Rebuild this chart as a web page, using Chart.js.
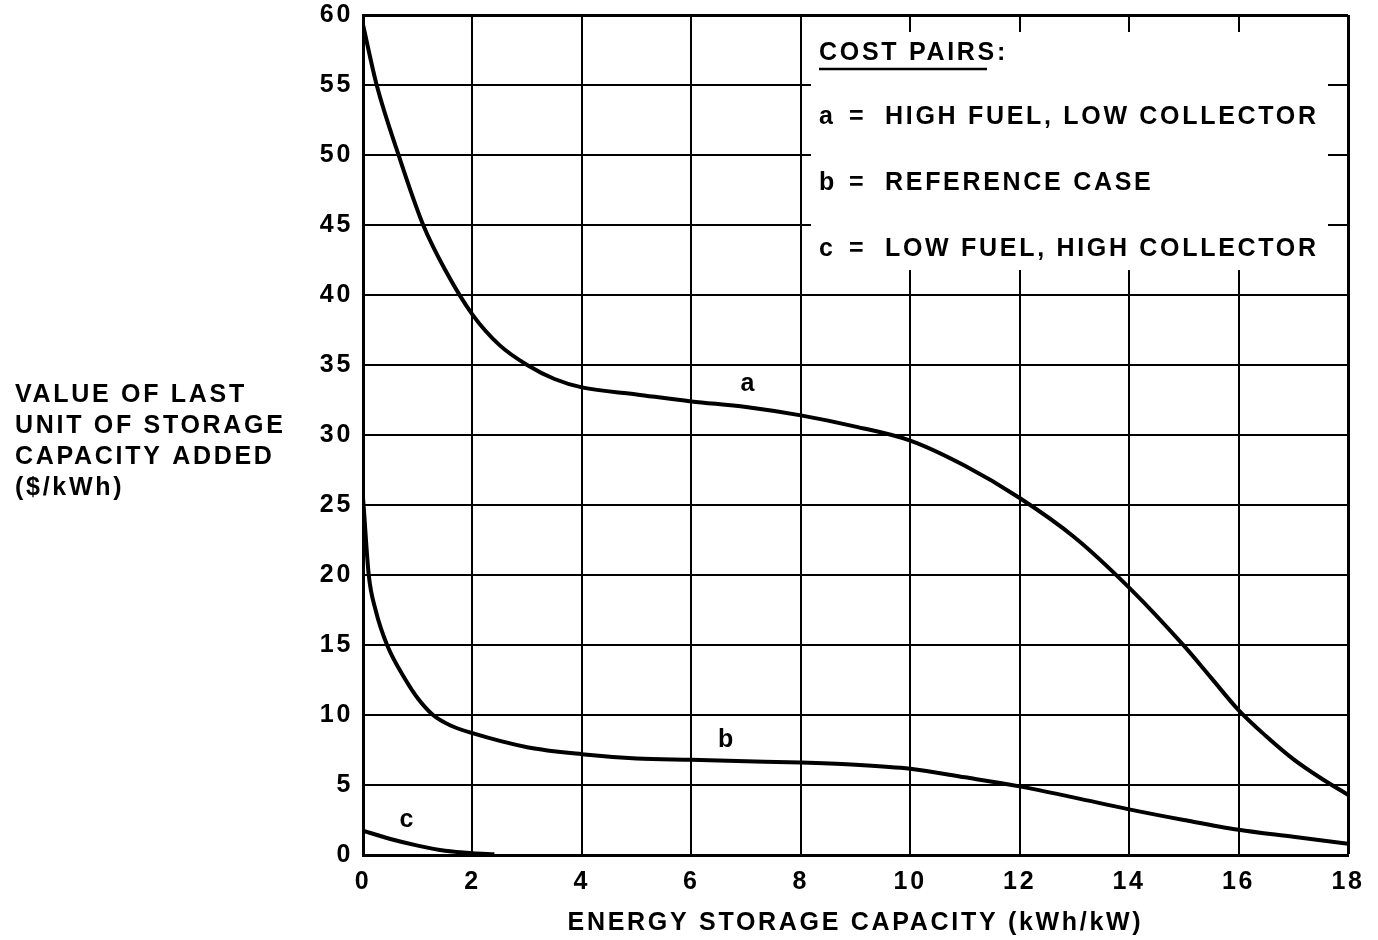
<!DOCTYPE html>
<html>
<head>
<meta charset="utf-8">
<script src="https://cdn.jsdelivr.net/npm/chart.js@4.4.1/dist/chart.umd.min.js"></script>
<style>
  body { margin: 0; background: #fff; }
  canvas { display: block; }
</style>
</head>
<body>
<canvas id="chart" width="1378" height="940"></canvas>
<script>
// Value of last unit of storage capacity added vs energy storage capacity

const xTicks = [0, 2, 4, 6, 8, 10, 12, 14, 16, 18];
const yTicks = [0, 5, 10, 15, 20, 25, 30, 35, 40, 45, 50, 55, 60];

// curve a = high fuel, low collector
const xA = [0, 0.25, 0.65, 1.1, 1.5, 2, 2.5, 3, 3.5, 4, 5, 6, 7, 8, 9, 10, 11, 12, 13, 14, 15, 15.5, 16, 16.5, 17, 17.5, 18];
const yA = [59.3, 55, 50, 45, 41.8, 38.6, 36.4, 35, 34, 33.4, 32.9, 32.4, 32, 31.4, 30.6, 29.6, 27.8, 25.5, 22.7, 19.1, 14.95, 12.65, 10.35, 8.5, 6.85, 5.5, 4.3];

// curve b = reference case
const xB = [0, 0.01, 0.105, 0.23, 0.44, 0.78, 1, 1.28, 1.6, 2, 3, 4, 5, 6, 7, 8, 9, 10, 11, 12, 13, 14, 15, 16, 17, 18];
const yB = [25.5, 25, 20, 17.5, 15, 12.5, 11.2, 10, 9.25, 8.7, 7.7, 7.2, 6.9, 6.8, 6.7, 6.6, 6.45, 6.16, 5.55, 4.9, 4.1, 3.26, 2.5, 1.8, 1.3, 0.8];

// curve c = low fuel, high collector
const xC = [0, 0.5, 1, 1.5, 2, 2.4];
const yC = [1.74, 1.14, 0.67, 0.3, 0.12, 0.05];

const curveNames = ['a', 'b', 'c'];
const curveLabelX = [7.05, 6.65, 0.82];
const curveLabelY = [33.6, 8.2, 2.5];

const legendTitle = 'COST PAIRS:';
const legendLines = [
    ['a', 'HIGH FUEL, LOW COLLECTOR'],
    ['b', 'REFERENCE CASE'],
    ['c', 'LOW FUEL, HIGH COLLECTOR']
];
const boxX = [8, 18];
const boxY = [40, 60];

const yTitle = ['VALUE OF LAST', 'UNIT OF STORAGE', 'CAPACITY ADDED', '($/kWh)'];
const xTitle = 'ENERGY STORAGE CAPACITY (kWh/kW)';

const FONT = "'Liberation Sans', Arial, Helvetica, sans-serif";

function toPoints(xs, ys) {
    return xs.map((v, i) => ({ x: v, y: ys[i] }));
}

function curve(xs, ys) {
    return {
        data: toPoints(xs, ys),
        borderColor: '#000',
        borderWidth: 4,
        pointRadius: 0,
        fill: false,
        cubicInterpolationMode: 'monotone'
    };
}

const overlay = {
    id: 'overlay',
    beforeDraw(chart) {
        chart.ctx.letterSpacing = '2.7px';
    },
    beforeDatasetsDraw(chart) {
        const ctx = chart.ctx;
        const x = chart.scales.x, y = chart.scales.y;
        const l = Math.round(x.getPixelForValue(boxX[0]));
        const r = Math.round(x.getPixelForValue(boxX[1]));
        const t = Math.round(y.getPixelForValue(boxY[1]));
        const b = Math.round(y.getPixelForValue(boxY[0]));
        ctx.save();
        ctx.fillStyle = '#fff';
        ctx.fillRect(l + 1, t + 2, r - l - 3, b - t - 3);

        // little stubs where the grid meets the box
        ctx.strokeStyle = '#000';
        ctx.lineWidth = 2;
        ctx.beginPath();
        xTicks.filter(v => v > boxX[0] && v < boxX[1]).forEach(v => {
            const px = Math.round(x.getPixelForValue(v));
            ctx.moveTo(px, t); ctx.lineTo(px, t + 17);
            ctx.moveTo(px, b); ctx.lineTo(px, b - 25);
        });
        yTicks.filter(v => v > boxY[0] && v < boxY[1]).forEach(v => {
            const py = Math.round(y.getPixelForValue(v));
            ctx.moveTo(l, py); ctx.lineTo(l + 10, py);
            ctx.moveTo(r, py); ctx.lineTo(r - 20, py);
        });
        ctx.stroke();

        ctx.fillStyle = '#000';
        ctx.font = 'bold 25px ' + FONT;
        ctx.textAlign = 'left';
        ctx.textBaseline = 'alphabetic';
        ctx.fillText(legendTitle, l + 18, t + 45);
        ctx.lineWidth = 2.5;
        ctx.beginPath();
        ctx.moveTo(l + 18, t + 54);
        ctx.lineTo(l + 186, t + 54);
        ctx.stroke();
        legendLines.forEach((line, i) => {
            const by = t + 109 + i * 66;
            ctx.fillText(line[0], l + 18, by);
            ctx.fillText('=', l + 48, by);
            ctx.fillText(line[1], l + 84, by);
        });
        ctx.restore();
    },
    afterDatasetsDraw(chart) {
        const ctx = chart.ctx;
        const x = chart.scales.x, y = chart.scales.y;
        ctx.save();
        ctx.fillStyle = '#000';
        ctx.font = 'bold 25px ' + FONT;
        ctx.textAlign = 'center';
        ctx.textBaseline = 'middle';
        curveNames.forEach((n, i) => {
            ctx.fillText(n, x.getPixelForValue(curveLabelX[i]), y.getPixelForValue(curveLabelY[i]));
        });
        ctx.restore();
    },
    afterDraw(chart) {
        const ctx = chart.ctx;
        ctx.save();
        ctx.fillStyle = '#000';
        ctx.font = 'bold 25px ' + FONT;
        ctx.textAlign = 'left';
        ctx.textBaseline = 'alphabetic';
        yTitle.forEach((line, i) => {
            ctx.fillText(line, 15, 402 + i * 31);
        });
        ctx.restore();
    }
};

new Chart(document.getElementById('chart'), {
    type: 'line',
    data: {
        datasets: [curve(xA, yA), curve(xB, yB), curve(xC, yC)]
    },
    options: {
        responsive: false,
        animation: false,
        devicePixelRatio: 1,
        layout: { padding: { left: 0, right: 30, top: 15, bottom: 0 } },
        plugins: {
            legend: { display: false },
            tooltip: { enabled: false }
        },
        scales: {
            x: {
                type: 'linear',
                min: 0,
                max: 18,
                afterFit: s => { s.height = 85; s.paddingLeft = 0; s.paddingRight = 0; },
                afterBuildTicks: s => { s.ticks = xTicks.map(v => ({ value: v })); },
                ticks: {
                    color: '#000',
                    padding: 12,
                    font: { size: 25, weight: 'bold', family: FONT }
                },
                grid: {
                    color: '#000',
                    lineWidth: c => (c.tick && c.tick.value === 18 ? 3 : 2),
                    drawTicks: false
                },
                border: { display: true, color: '#000', width: 3 },
                title: {
                    display: true,
                    text: xTitle,
                    color: '#000',
                    padding: { top: 0, bottom: 2 },
                    font: { size: 25, weight: 'bold', family: FONT }
                }
            },
            y: {
                type: 'linear',
                min: 0,
                max: 60,
                afterFit: s => { s.width = 363; s.paddingTop = 0; s.paddingBottom = 0; },
                afterBuildTicks: s => { s.ticks = yTicks.map(v => ({ value: v })); },
                ticks: {
                    color: '#000',
                    padding: 10,
                    font: { size: 25, weight: 'bold', family: FONT }
                },
                grid: {
                    color: '#000',
                    lineWidth: c => (c.tick && c.tick.value === 60 ? 3 : 2),
                    drawTicks: false
                },
                border: { display: true, color: '#000', width: 3 }
            }
        }
    },
    plugins: [overlay]
});
</script>
</body>
</html>
